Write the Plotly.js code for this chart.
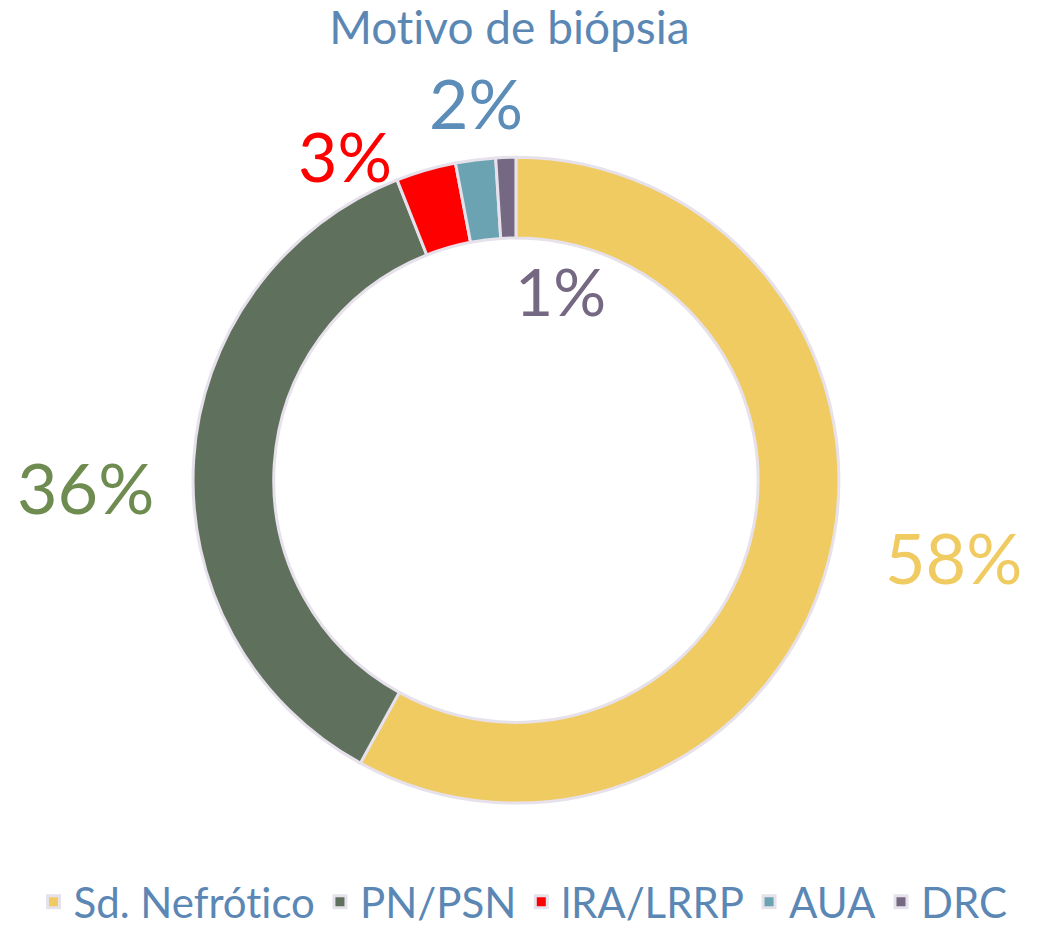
<!DOCTYPE html>
<html><head><meta charset="utf-8">
<script src="https://cdn.plot.ly/plotly-3.0.1.min.js"></script>
<style>html,body{margin:0;padding:0;background:#fff} svg text{font-variant-ligatures:none;font-feature-settings:"liga" 0}</style>
</head><body>
<div id="chart" style="width:1046px;height:936px"></div>
<script>
const categories = ["Sd. Nefrótico", "PN/PSN", "lRA/LRRP", "AUA", "DRC"];
const values = [58, 36, 3, 2, 1];
const percentLabels = ["58%", "36%", "3%", "2%", "1%"];
const sliceColors = ["#F0CB62", "#5F705D", "#FF0000", "#6BA3B3", "#746882"];
const labelColors = ["#F0CB62", "#6E8B50", "#FF0000", "#5B8DB8", "#746882"];
const labelPos = [[0.912, 0.405, 70], [0.082, 0.480, 70], [0.330, 0.834, 68], [0.455, 0.890, 68], [0.536, 0.690, 66]];

const font = "Lato, 'Open Sans', sans-serif";
const trace = {
  type: "pie",
  labels: categories,
  values: values,
  hole: 0.75,
  sort: false,
  direction: "clockwise",
  rotation: 0,
  textinfo: "none",
  marker: {colors: sliceColors, line: {color: "#E6E1EA", width: 3}},
  domain: {x: [0.1845, 0.802], y: [0.142, 0.832]},
  hoverinfo: "label+percent"
};
const annotations = percentLabels.map((t, i) => ({
  text: t, x: labelPos[i][0], y: labelPos[i][1], xref: "paper", yref: "paper",
  showarrow: false, xanchor: "center", yanchor: "middle",
  font: {family: font, size: labelPos[i][2], color: labelColors[i]}
}));
const layout = {
  width: 1046, height: 936,
  margin: {l: 0, r: 0, t: 0, b: 0, autoexpand: false},
  paper_bgcolor: "#fff",
  title: {text: "Motivo de biópsia", x: 0.487, xanchor: "center", y: 0.97, yanchor: "middle",
          font: {family: font, size: 46, color: "#5B87B5"}},
  showlegend: true,
  legend: {orientation: "h", x: 0.5, xanchor: "center", y: 0.0, yanchor: "bottom",
           font: {family: font, size: 42, color: "#5B87B5"}, itemwidth: 30},
  annotations: annotations
};
Plotly.newPlot("chart", [trace], layout, {displayModeBar: false});
</script>
</body></html>
